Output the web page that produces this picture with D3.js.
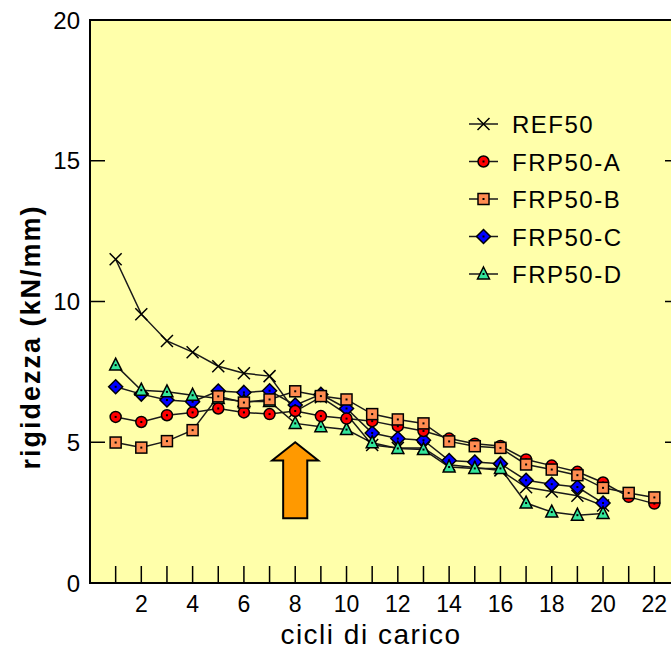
<!DOCTYPE html>
<meta charset="utf-8">
<script src="https://d3js.org/d3.v7.min.js"></script>
<style>
  body { margin: 0; background: #fff; }
  text { font-family: "Liberation Sans", Arial, sans-serif; fill: #000; }
</style>
<div id="chart"></div>
<script>

// data
var cycles = d3.range(1, 23);
var ref50 = [11.5, 9.55, 8.6, 8.2, 7.7, 7.45, 7.35, 6.1, 6.6, 6.0, 4.9, 4.8, 4.8, 4.2, 4.1, 4.0, 3.4, 3.25, 3.1, 2.75];
var frpA = [5.9, 5.72, 5.96, 6.06, 6.2, 6.06, 6.0, 6.11, 5.93, 5.84, 5.75, 5.57, 5.4, 5.13, 4.95, 4.87, 4.39, 4.17, 3.95, 3.57, 3.06, 2.82];
var frpB = [4.99, 4.81, 5.04, 5.43, 6.63, 6.41, 6.52, 6.81, 6.64, 6.52, 6.0, 5.81, 5.67, 5.03, 4.86, 4.8, 4.21, 4.03, 3.83, 3.38, 3.2, 3.04];
var frpC = [6.97, 6.71, 6.5, 6.44, 6.82, 6.77, 6.83, 6.32, 6.7, 6.2, 5.33, 5.13, 5.07, 4.35, 4.3, 4.24, 3.65, 3.51, 3.41, 2.84];
var frpD = [7.74, 6.85, 6.79, 6.67, 6.55, 6.45, 6.45, 5.67, 5.55, 5.45, 4.98, 4.78, 4.74, 4.12, 4.07, 4.07, 2.84, 2.52, 2.41, 2.47];
var yTicks = [0, 5, 10, 15, 20];
var xLabels = [2, 4, 6, 8, 10, 12, 14, 16, 18, 20, 22];

var series = [
  {name: "REF50",   values: ref50, symbol: "cross"},
  {name: "FRP50-A", values: frpA,  symbol: "circle",   color: "#ff0000"},
  {name: "FRP50-B", values: frpB,  symbol: "square",   color: "#ff8c50"},
  {name: "FRP50-C", values: frpC,  symbol: "diamond",  color: "#0000ff"},
  {name: "FRP50-D", values: frpD,  symbol: "triangle", color: "#33e69a"}
];
// drawing order seen in the picture (B over A, A over C, D over C)
var drawOrder = [0, 3, 4, 1, 2];

var W = 671, H = 649;
var svg = d3.select("#chart").append("svg")
  .attr("width", W)
  .attr("height", H);

var x = d3.scaleLinear().domain([0, 23]).range([90, 680]);
var y = d3.scaleLinear().domain([0, 20]).range([583, 20]);

// plot background
svg.append("rect")
  .attr("x", x(0)).attr("y", y(20))
  .attr("width", x(23) - x(0)).attr("height", y(0) - y(20))
  .attr("fill", "#ffffaa")
  .attr("stroke", "#000")
  .attr("stroke-width", 2);

// y ticks, inward on both sides
svg.append("g")
  .selectAll("line.yl")
  .data(yTicks)
  .enter().append("line")
    .attr("x1", x(0)).attr("x2", x(0) + 15)
    .attr("y1", function(d) { return y(d); })
    .attr("y2", function(d) { return y(d); })
    .attr("stroke", "#000").attr("stroke-width", 1.5);
svg.append("g")
  .selectAll("line.yr")
  .data(yTicks)
  .enter().append("line")
    .attr("x1", x(23)).attr("x2", x(23) - 15)
    .attr("y1", function(d) { return y(d); })
    .attr("y2", function(d) { return y(d); })
    .attr("stroke", "#000").attr("stroke-width", 1.5);
svg.append("g")
  .selectAll("text")
  .data(yTicks)
  .enter().append("text")
    .attr("x", 80)
    .attr("y", function(d) { return y(d); })
    .attr("dy", "0.36em")
    .attr("text-anchor", "end")
    .style("font-size", "24px")
    .text(function(d) { return d; });

// x ticks, every cycle, pointing up
svg.append("g")
  .selectAll("line")
  .data(d3.range(1, 23))
  .enter().append("line")
    .attr("x1", function(d) { return x(d); })
    .attr("x2", function(d) { return x(d); })
    .attr("y1", y(0)).attr("y2", y(0) - 17)
    .attr("stroke", "#000").attr("stroke-width", 1.5);
svg.append("g")
  .selectAll("text")
  .data(xLabels)
  .enter().append("text")
    .attr("x", function(d) { return x(d); })
    .attr("y", 612)
    .attr("text-anchor", "middle")
    .style("font-size", "23px")
    .text(function(d) { return d; });

// axis titles
svg.append("text")
  .attr("x", 371).attr("y", 644)
  .attr("text-anchor", "middle")
  .style("font-size", "28px")
  .style("letter-spacing", "1.5px")
  .text("cicli di carico");
svg.append("text")
  .attr("transform", "translate(40,337) rotate(-90)")
  .attr("text-anchor", "middle")
  .style("font-size", "27px")
  .style("font-weight", "bold")
  .style("letter-spacing", "2px")
  .text("rigidezza (kN/mm)");

// markers
function drawMarker(g, s, cx, cy) {
  if (s.symbol == "cross") {
    g.append("path")
      .attr("d", "M" + (cx - 6) + "," + (cy - 6) + "L" + (cx + 6) + "," + (cy + 6) +
                 "M" + (cx - 6) + "," + (cy + 6) + "L" + (cx + 6) + "," + (cy - 6))
      .attr("stroke", "#000").attr("stroke-width", 1.5).attr("fill", "none");
    return;
  }
  var p;
  if (s.symbol == "circle") {
    p = g.append("circle").attr("cx", cx).attr("cy", cy).attr("r", 5.5);
  } else if (s.symbol == "square") {
    p = g.append("rect").attr("x", cx - 5.5).attr("y", cy - 5.5).attr("width", 11).attr("height", 11);
  } else if (s.symbol == "diamond") {
    p = g.append("path").attr("d", "M" + cx + "," + (cy - 7) + "L" + (cx + 7) + "," + cy +
                                  "L" + cx + "," + (cy + 7) + "L" + (cx - 7) + "," + cy + "Z");
  } else {
    p = g.append("path").attr("d", "M" + cx + "," + (cy - 7) + "L" + (cx + 6) + "," + (cy + 5) +
                                  "L" + (cx - 6) + "," + (cy + 5) + "Z");
  }
  p.attr("fill", s.color).attr("stroke", "#000").attr("stroke-width", 1.5);
  g.append("rect").attr("x", cx - 1).attr("y", cy - 1).attr("width", 2).attr("height", 2).attr("fill", "#000");
}

var line = d3.line()
  .x(function(d, i) { return x(cycles[i]); })
  .y(function(d) { return y(d); });

// lines first, then markers
drawOrder.forEach(function(k) {
  svg.append("path")
    .attr("d", line(series[k].values))
    .attr("fill", "none")
    .attr("stroke", "#1a1a1a")
    .attr("stroke-width", 1.5);
});
drawOrder.forEach(function(k) {
  var g = svg.append("g");
  series[k].values.forEach(function(v, i) {
    drawMarker(g, series[k], x(cycles[i]), y(v));
  });
});

// arrow pointing at cycle 8
var ax = 8, aTip = 5.0, aHead = 4.35, aBase = 2.3, headW = 0.9, shaftW = 0.47;
var arrowPts = [
  [ax, aTip], [ax + headW, aHead], [ax + shaftW, aHead], [ax + shaftW, aBase],
  [ax - shaftW, aBase], [ax - shaftW, aHead], [ax - headW, aHead]
];
svg.append("path")
  .attr("d", d3.line().x(function(d) { return x(d[0]); }).y(function(d) { return y(d[1]); })(arrowPts) + "Z")
  .attr("fill", "#ff9900")
  .attr("stroke", "#000")
  .attr("stroke-width", 2);

// legend
var legend = svg.append("g");
series.forEach(function(s, i) {
  var ly = 124 + i * 37.5;
  legend.append("line")
    .attr("x1", 469).attr("x2", 498)
    .attr("y1", ly).attr("y2", ly)
    .attr("stroke", "#1a1a1a").attr("stroke-width", 1.5);
  drawMarker(legend, s, 483.5, ly);
  legend.append("text")
    .attr("x", 512).attr("y", ly + 9)
    .style("font-size", "24px")
    .style("letter-spacing", "1.5px")
    .text(s.name);
});

</script>
